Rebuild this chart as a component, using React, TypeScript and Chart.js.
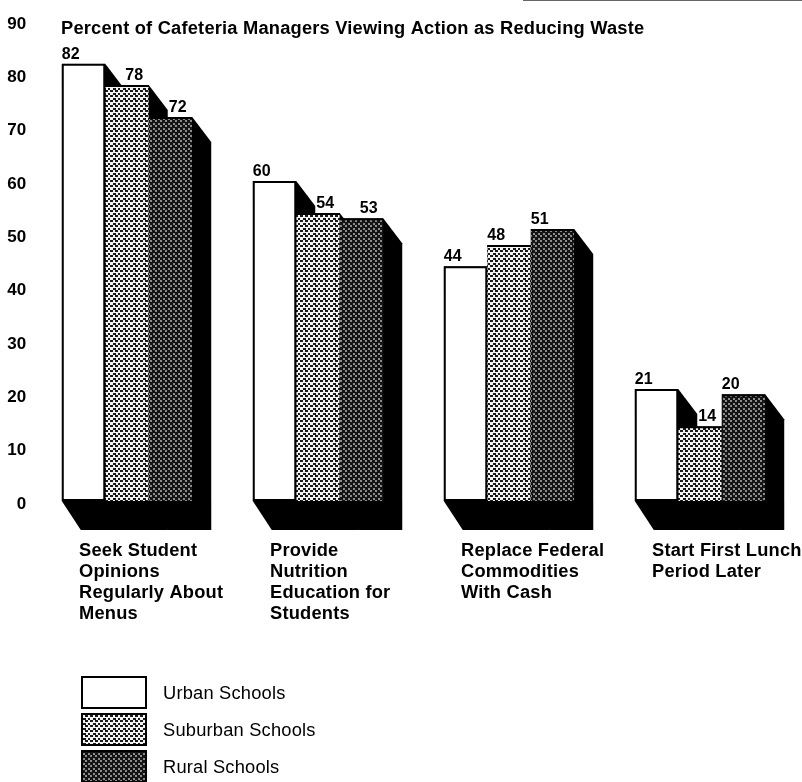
import React, { useEffect, useRef } from "react";
import { Chart, registerables } from "chart.js";

Chart.register(...registerables);

const titleText = "Percent of Cafeteria Managers Viewing Action as Reducing Waste";
const categories = [
  ["Seek Student", "Opinions", "Regularly About", "Menus"],
  ["Provide", "Nutrition", "Education for", "Students"],
  ["Replace Federal", "Commodities", "With Cash"],
  ["Start First Lunch", "Period Later"],
];
const urban = [82, 60, 44, 21];
const suburban = [78, 54, 48, 14];
const rural = [72, 53, 51, 20];
const seriesNames = ["Urban Schools", "Suburban Schools", "Rural Schools"];

const FONT = '"Liberation Sans", Arial, sans-serif';
const SPACING = "0.2px";

function makePattern(ctx: CanvasRenderingContext2D, dark: boolean) {
  const c = document.createElement("canvas");
  c.width = 10;
  c.height = 10;
  const p = c.getContext("2d")!;
  p.fillStyle = dark ? "#141414" : "#f4f4f4";
  p.fillRect(0, 0, 10, 10);
  p.fillStyle = dark ? "#8c8c8c" : "#1a1a1a";
  const dots = [[0, 0], [5, 0], [3, 3], [8, 3], [0, 5], [5, 5], [3, 8], [8, 8]];
  dots.forEach(([x, y]) => p.fillRect(x, y, dark ? 2 : 3, 2));
  return ctx.createPattern(c, "repeat")!;
}

const DEPTH_X = 19;
const DEPTH_TOP = 25;
const DEPTH_FLOOR = 29;

const extrudePlugin = {
  id: "extrude",
  beforeLayout(chart: any) {
    chart.ctx.letterSpacing = SPACING;
  },
  beforeDraw(chart: any) {
    chart.ctx.letterSpacing = SPACING;
  },
  beforeDatasetsDraw(chart: any) {
    const { ctx } = chart;
    ctx.save();
    ctx.fillStyle = "#000";
    chart.data.datasets.forEach((_: any, d: number) => {
      chart.getDatasetMeta(d).data.forEach((bar: any) => {
        const x1 = bar.x - bar.width / 2;
        const x2 = bar.x + bar.width / 2;
        ctx.beginPath();
        ctx.moveTo(x2, bar.y);
        ctx.lineTo(x2 + DEPTH_X, bar.y + DEPTH_TOP);
        ctx.lineTo(x2 + DEPTH_X, bar.base + DEPTH_FLOOR);
        ctx.lineTo(x1 + DEPTH_X, bar.base + DEPTH_FLOOR);
        ctx.lineTo(x1, bar.base);
        ctx.lineTo(x1, bar.y);
        ctx.closePath();
        ctx.fill();
      });
    });
    ctx.restore();
  },
  afterDatasetsDraw(chart: any) {
    const { ctx } = chart;
    ctx.save();
    ctx.fillStyle = "#000";
    ctx.font = `bold 16px ${FONT}`;
    ctx.textAlign = "left";
    ctx.textBaseline = "alphabetic";
    chart.data.datasets.forEach((ds: any, d: number) => {
      chart.getDatasetMeta(d).data.forEach((bar: any, i: number) => {
        const prev = d > 0 ? chart.data.datasets[d - 1].data[i] : -1;
        const x1 = bar.x - bar.width / 2;
        const x = prev > ds.data[i] ? x1 + DEPTH_X + 1 : x1;
        ctx.fillText(String(ds.data[i]), x, bar.y - 5);
      });
    });
    ctx.restore();
  },
  afterDraw(chart: any) {
    const { ctx } = chart;
    ctx.save();
    ctx.fillStyle = "#666";
    ctx.fillRect(523, 0, 279, 1);
    ctx.font = `18.3px ${FONT}`;
    ctx.textBaseline = "middle";
    ctx.textAlign = "left";
    chart.data.datasets.forEach((ds: any, d: number) => {
      const top = 676 + d * 37;
      ctx.fillStyle = "#000";
      ctx.fillRect(81, top, 66, 33);
      ctx.fillStyle = ds.backgroundColor;
      ctx.fillRect(83, top + 2, 62, 29);
      ctx.fillStyle = "#000";
      ctx.fillText(ds.label, 163, top + 18);
    });
    ctx.restore();
  },
};

export default function App() {
  const ref = useRef<HTMLCanvasElement>(null);
  useEffect(() => {
    const canvas = ref.current!;
    const ctx = canvas.getContext("2d")!;
    const edge = (top: number, rest: number) => ({ top, left: rest, right: rest, bottom: rest });
    const chart = new Chart(canvas, {
      type: "bar",
      data: {
        labels: categories as any,
        datasets: [
          { label: seriesNames[0], data: urban, backgroundColor: "#ffffff", borderColor: "#000", borderWidth: edge(2, 2) },
          { label: seriesNames[1], data: suburban, backgroundColor: makePattern(ctx, false) as any, borderColor: "#000", borderWidth: edge(2, 0) },
          { label: seriesNames[2], data: rural, backgroundColor: makePattern(ctx, true) as any, borderColor: "#000", borderWidth: edge(2, 0) },
        ],
      },
      options: {
        responsive: false,
        animation: false,
        devicePixelRatio: 1,
        layout: { padding: { left: 0, right: 6.5, top: 0, bottom: 0 } },
        datasets: { bar: { categoryPercentage: 0.683, barPercentage: 1, borderSkipped: false } },
        plugins: {
          legend: { display: false },
          tooltip: { enabled: false },
          title: {
            display: true,
            text: titleText,
            align: "start",
            color: "#000",
            font: { family: FONT, size: 18.3, weight: "bold", lineHeight: 1.2 },
            padding: { top: 18, bottom: -19 },
          },
        },
        scales: {
          x: {
            grid: { display: false, drawTicks: false },
            border: { display: false },
            afterFit: (s: any) => {
              s.height = 281;
              s.paddingLeft = 0;
              s.paddingRight = 0;
            },
            ticks: {
              autoSkip: false,
              maxRotation: 0,
              minRotation: 0,
              align: "start",
              labelOffset: -48,
              padding: 39,
              color: "#000",
              font: { family: FONT, size: 18.3, weight: "bold", lineHeight: "21px" },
            },
          },
          y: {
            min: 0,
            max: 90,
            grid: { display: false, drawTicks: false },
            border: { display: false },
            afterFit: (s: any) => {
              s.width = 31.5;
              s.paddingTop = 0;
              s.paddingBottom = 0;
            },
            ticks: {
              stepSize: 10,
              padding: 5,
              labelOffset: 3,
              color: "#000",
              font: { family: FONT, size: 17, weight: "bold" },
            },
          },
        },
      },
      plugins: [
        extrudePlugin,
        {
          id: "titleLeft",
          afterLayout(c: any) {
            c.titleBlock.left = 61;
          },
        },
      ],
    } as any);
    return () => chart.destroy();
  }, []);
  return (
    <canvas
      ref={ref}
      width={802}
      height={782}
      style={{ position: "fixed", left: 0, top: 0, width: 802, height: 782, background: "#fff" }}
    />
  );
}
